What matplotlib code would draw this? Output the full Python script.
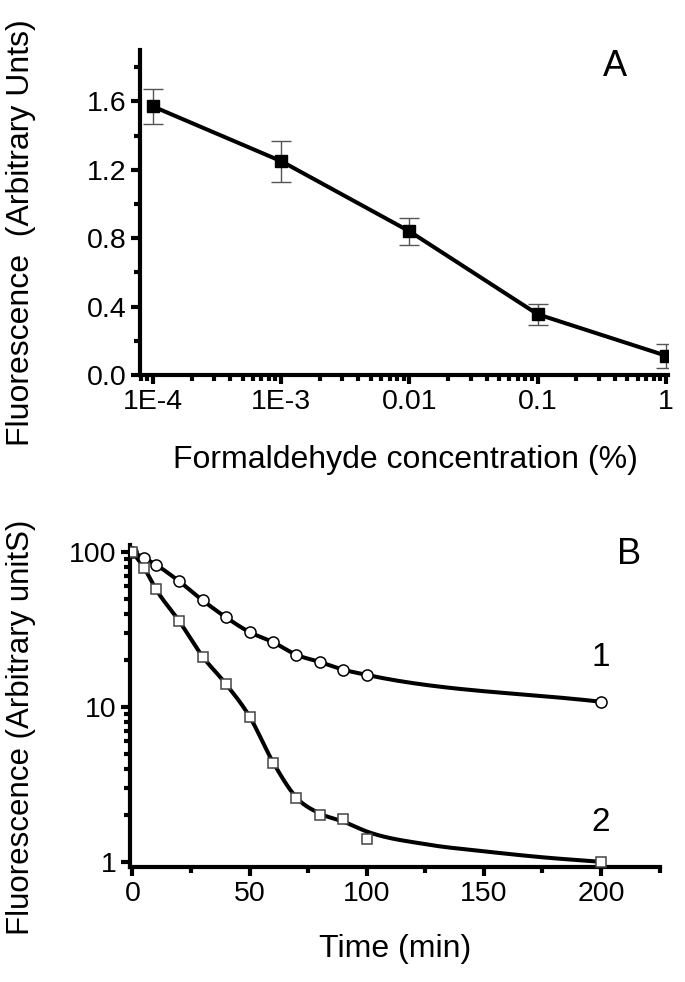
import matplotlib
matplotlib.use('Agg')
import matplotlib.pyplot as plt
import numpy as np
from matplotlib.ticker import LogLocator, NullFormatter, MultipleLocator

plt.rcParams['font.family'] = ['Liberation Sans', 'DejaVu Sans']

# panel A data
conc = [1e-4, 1e-3, 1e-2, 1e-1, 1]
conc_labels = ['1E-4', '1E-3', '0.01', '0.1', '1']
fluo_a = [1.57, 1.25, 0.84, 0.355, 0.113]
err_a = [0.10, 0.12, 0.08, 0.06, 0.07]

# panel B data
time_pts = [0, 5, 10, 20, 30, 40, 50, 60, 70, 80, 90, 100, 200]
fluo_1 = [100, 91.5, 82.8, 64.6, 48.7, 37.8, 30.4, 26.2, 21.7, 19.5, 17.2, 16.1, 10.8]
fluo_2 = [100, 78.8, 57.7, 35.7, 21.1, 14.0, 8.66, 4.33, 2.59, 2.02, 1.89, 1.40, 1.0]

# fitted curves drawn in panel B
fit_t1 = [0, 5, 10, 20, 30, 40, 50, 60, 70, 80, 90, 100, 200]
fit_y1 = [100, 91.5, 82.8, 64.6, 48.7, 37.8, 30.4, 26.2, 21.7, 19.5, 17.4, 16.1, 10.8]
fit_t2 = [0, 5, 10, 20, 30, 40, 50, 60, 70, 80, 90, 100, 125, 150, 175, 200]
fit_y2 = [100, 78.8, 57.7, 35.7, 21.1, 14.0, 8.66, 4.4, 2.6, 2.05, 1.82, 1.57, 1.30, 1.17, 1.07, 1.0]


def smooth(x, y, n=30):
    # cubic hermite through the points, in log space
    x = np.asarray(x, float)
    ly = np.log10(y)
    h = np.diff(x)
    d = np.diff(ly) / h
    m = np.empty_like(x)
    m[0] = d[0]
    m[-1] = d[-1]
    m[1:-1] = (d[:-1] * h[1:] + d[1:] * h[:-1]) / (h[1:] + h[:-1])
    xs, ys = [], []
    for i in range(len(x) - 1):
        t = np.linspace(0, 1, n, endpoint=False)
        h00 = 2*t**3 - 3*t**2 + 1
        h10 = t**3 - 2*t**2 + t
        h01 = -2*t**3 + 3*t**2
        h11 = t**3 - t**2
        xs += list(x[i] + t * h[i])
        ys += list(h00*ly[i] + h10*h[i]*m[i] + h01*ly[i+1] + h11*h[i]*m[i+1])
    xs.append(x[-1])
    ys.append(ly[-1])
    return np.array(xs), 10**np.array(ys)


fig = plt.figure(figsize=(6.85, 9.82), dpi=100)

lw_spine = 3.0
tick_kw = dict(direction='out', width=3.0, labelsize=20.5, colors='black')


def style(a):
    a.tick_params(which='major', length=6.5, pad=3.5, **tick_kw)
    a.tick_params(which='minor', length=4, width=3.0, direction='out')
    for s in ['top', 'right']:
        a.spines[s].set_visible(False)
    for s in ['left', 'bottom']:
        a.spines[s].set_linewidth(lw_spine)


# ---- panel A ----
ax = fig.add_axes([0.2044, 0.6181, 0.7715, 0.331])
ax.errorbar(conc, fluo_a, yerr=err_a, fmt='none', ecolor='#555555',
            elinewidth=1, capsize=7, capthick=1, zorder=2)
ax.plot(conc, fluo_a, 'k-', lw=2.9, marker='s', ms=8, zorder=3)
ax.set_xscale('log')
ax.set_xlim(7.93e-5, 1.046)
ax.set_ylim(0, 1.9)
ax.set_xticks(conc)
ax.set_xticklabels(conc_labels)
ax.xaxis.set_minor_locator(LogLocator(base=10, subs=np.arange(2, 10)))
ax.xaxis.set_minor_formatter(NullFormatter())
ax.yaxis.set_major_locator(MultipleLocator(0.4))
ax.yaxis.set_minor_locator(MultipleLocator(0.2))
ax.set_yticklabels(['%.1f' % v for v in ax.get_yticks()])
style(ax)
ax.text(0.898, 0.948, 'A', transform=ax.transAxes, fontsize=26,
        ha='center', va='center')

# ---- panel B ----
bx = fig.add_axes([0.1902, 0.1174, 0.7733, 0.3276])
fx, fy = smooth(fit_t1, fit_y1)
bx.plot(fx, fy, 'k-', lw=2.9, zorder=2)
fx, fy = smooth(fit_t2, fit_y2)
bx.plot(fx, fy, 'k-', lw=2.9, zorder=2)
bx.plot(time_pts, fluo_1, 'o', ms=8, mfc='white', mec='black', mew=1.1, zorder=3)
bx.plot(time_pts, fluo_2, 's', ms=7.5, mfc='white', mec='#444444', mew=1.1, zorder=3)
bx.set_yscale('log')
bx.set_xlim(-0.94, 225.2)
bx.set_ylim(0.93, 111)
bx.set_xticks([0, 50, 100, 150, 200])
bx.xaxis.set_minor_locator(MultipleLocator(25))
bx.set_yticks([1, 10, 100])
bx.set_yticklabels(['1', '10', '100'])
bx.yaxis.set_minor_locator(LogLocator(base=10, subs=np.arange(2, 10)))
bx.yaxis.set_minor_formatter(NullFormatter())
style(bx)
bx.text(200, 21, '1', fontsize=24, ha='center', va='center')
bx.text(200, 1.8, '2', fontsize=24, ha='center', va='center')
bx.text(0.9415, 0.969, 'B', transform=bx.transAxes, fontsize=26,
        ha='center', va='center')

# axis titles
fig.text(21/685, 1 - 233/982, 'Fluorescence  (Arbitrary Unts)', rotation=90,
         fontsize=23, ha='center', va='center')
fig.text(405/685, 1 - 460/982, 'Formaldehyde concentration (%)',
         fontsize=23, ha='center', va='center')
fig.text(21/685, 1 - 727/982, 'Fluorescence (Arbitrary unitS)', rotation=90,
         fontsize=22.5, ha='center', va='center')
fig.text(395/685, 1 - 949/982, 'Time (min)',
         fontsize=23, ha='center', va='center')

fig.savefig('out.png', dpi=100)
